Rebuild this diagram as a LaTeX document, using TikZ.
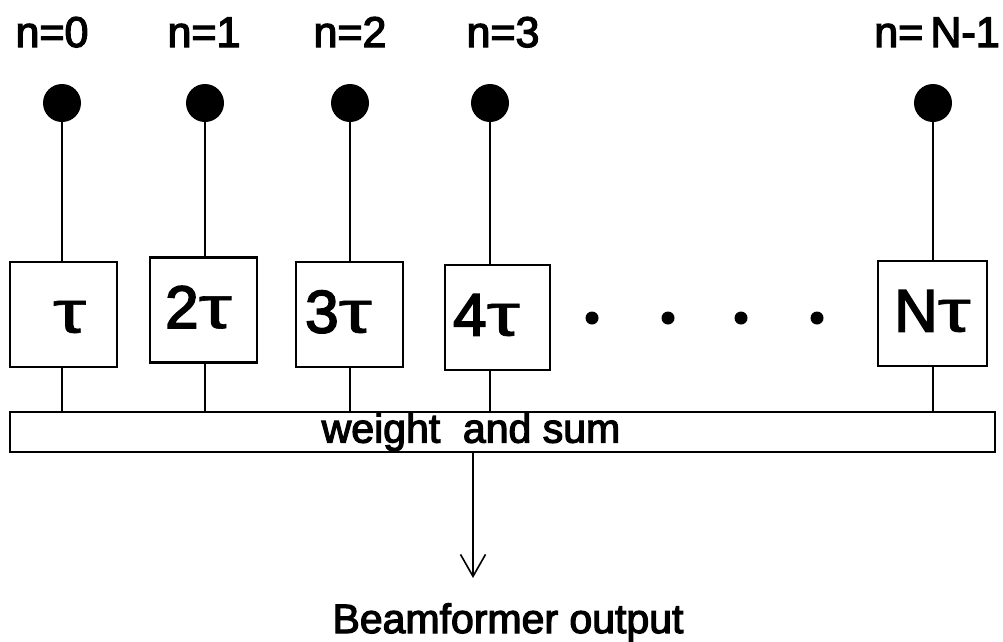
\documentclass[tikz,border=0pt]{standalone}
\usepackage{fontspec}
\newfontfamily\labfont{Liberation Sans}[FakeBold=3]
\newfontfamily\taufont{Liberation Sans}[FakeBold=1]
\usetikzlibrary{arrows.meta}
\newcommand\tauw{{\taufont\scalebox{1.4}[1]{τ}}}
\begin{document}
\begin{tikzpicture}[x=1pt,y=-1pt,
  every node/.style={font=\labfont},
  elem/.style={circle,fill=black,inner sep=0pt,minimum size=38pt},
  toplab/.style={anchor=base,inner sep=0pt,font=\labfont\fontsize{43}{48}\selectfont},
  delaybox/.style={draw,line width=2.2pt,minimum width=#1,minimum height=105pt,inner sep=0pt,
    text height=43pt,text depth=7pt,font=\labfont\fontsize{60}{66}\selectfont},
  delaybox/.default=107pt,
  lead/.style={line width=2pt},
  dotmark/.style={circle,fill=black,inner sep=0pt,minimum size=13pt},
  sumbox/.style={draw,line width=2.2pt,minimum width=985pt,minimum height=40pt,inner sep=0pt},
  biglab/.style={inner sep=0pt,font=\labfont\fontsize{41}{46}\selectfont}]
\useasboundingbox (0,0) rectangle (1003,641);

% element indices
\node[toplab] (l0) at (52,47) {n=0};
\node[toplab] (l1) at (204,47) {n=1};
\node[toplab] (l2) at (350,47) {n=2};
\node[toplab] (l3) at (503,47) {n=3};
\node[toplab] (l4) at (937,47) {n=\,N-1};

% array elements
\node[elem] (e0) at (62,103) {};
\node[elem] (e1) at (205,103) {};
\node[elem] (e2) at (350,103) {};
\node[elem] (e3) at (490,103) {};
\node[elem] (e4) at (933,103) {};

% delay lines
\node[delaybox] (d0) at (63.5,314.5) {\hspace*{12pt}\tauw};
\node[delaybox] (d1) at (203.5,310) {2\tauw\hspace*{10pt}};
\node[delaybox] (d2) at (349.5,314.5) {3\tauw\hspace*{22pt}};
\node[delaybox=105pt] (d3) at (497.5,317.5) {4\tauw\hspace*{22pt}};
\node[delaybox=109pt] (d4) at (932.5,313.5) {N\tauw};

% remaining elements
\node[dotmark] (p1) at (592,318) {};
\node[dotmark] (p2) at (668,318) {};
\node[dotmark] (p3) at (741,318) {};
\node[dotmark] (p4) at (817,318) {};

% weighting and summation
\node[sumbox] (ws) at (502.5,432) {};
\node[biglab] (wl) at (471,432) {weight\ \ and sum};

% leads from elements through delays to the summer
\foreach \i in {0,...,4}{
  \draw[lead] (e\i.south) -- (e\i |- d\i.north);
  \draw[lead] (e\i |- d\i.south) -- (e\i |- ws.north);
}

% output
\coordinate (tip) at (473,578);
\draw[line width=1.8pt,-{Straight Barb[length=22pt,width=25pt,line width=1.6pt]}] (ws.south -| tip) -- (tip);
\node[biglab,anchor=base] (out) at (508,633) {Beamformer output};
\end{tikzpicture}
\end{document}
